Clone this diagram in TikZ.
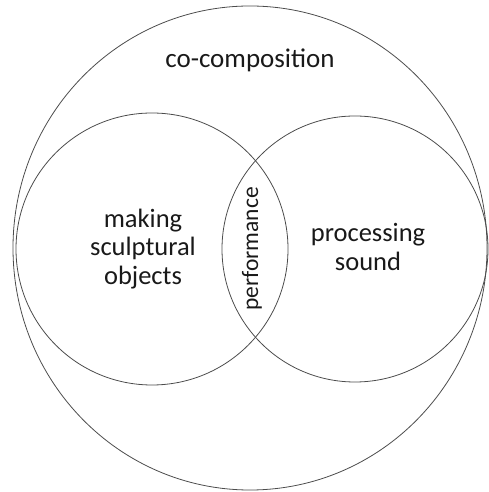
\documentclass[tikz,border=0pt]{standalone}
\usepackage{fontspec}
\setmainfont{Carlito}
\usetikzlibrary{positioning, shapes.geometric}

\begin{document}
\begin{tikzpicture}[
  x=1pt, y=1pt,
  ring/.style={circle, draw=black!70, line width=0.8pt,
               inner sep=0pt, outer sep=0pt},
  oval/.style={ellipse, draw=black!70, line width=0.8pt,
               inner sep=0pt, outer sep=0pt},
  lbl/.style={font=\fontsize{26.5}{28.5}\selectfont, align=center,
              text=black!90, inner sep=0pt}
]
  \useasboundingbox (0,0) rectangle (488,492);

  % the three areas
  \node[oval, minimum width=474pt, minimum height=484pt] (whole) at (250,244) {};
  \node[ring, minimum size=272pt] (sculpt) at (152,243) {};
  \node[ring, minimum size=266pt] (sound) at (355,243) {};

  % labels
  \node[lbl, font=\fontsize{27}{30}\selectfont] (cocomp) at ([yshift=188pt]whole.center) {co-composition};
  \node[lbl] (making) at ([xshift=-9pt]sculpt.center) {making\\sculptural\\objects};
  \node[lbl] (proc) at ([xshift=13pt, yshift=2pt]sound.center) {processing\\sound};
  \node[lbl, rotate=90, font=\fontsize{23.5}{28}\selectfont] (perf) at (252,243) {performance};
\end{tikzpicture}
\end{document}
